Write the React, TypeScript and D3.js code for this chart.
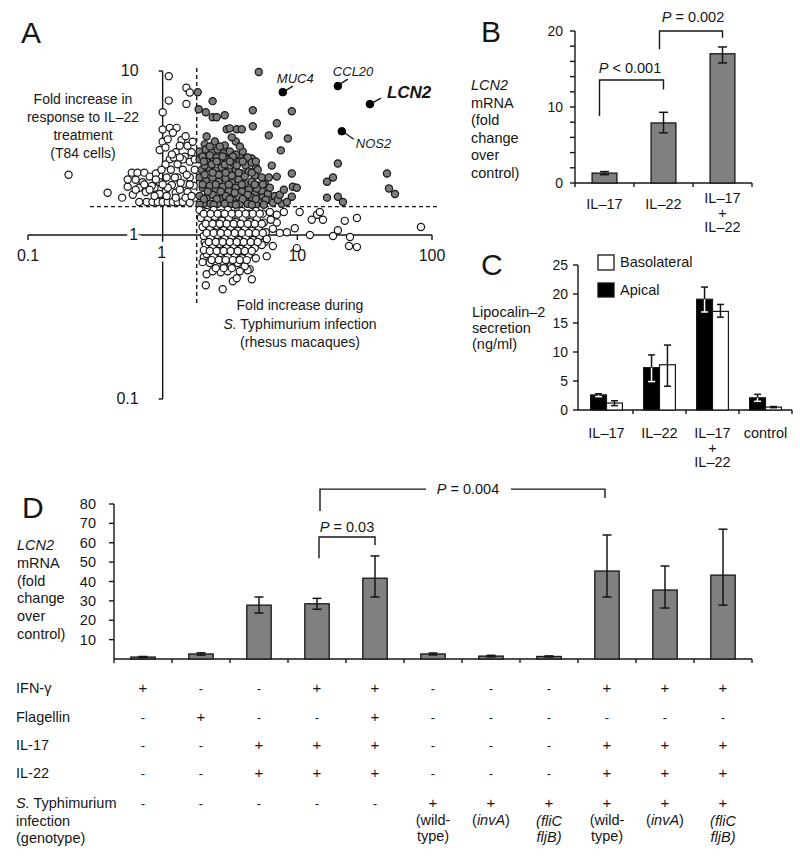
import React from 'react';
import * as d3 from 'd3';

const FONT = '"Liberation Sans", Arial, Helvetica, sans-serif';
const INK = '#161616';
const BAR_GRAY = '#808080';
const DOT_GRAY = '#7c7c7c';

// ---------- Panel A: fold increase (infection, IL-22) ----------
const scatterPts: [number, number][] = [
  [1.11,9.3],[1.5,7.9],[1.59,7.4],[1.11,6.6],[1.5,6.3],[1.0,5.6],[1.0,4.4],[1.13,4.5],[1.27,4.5],[1.19,4.2],
  [1.0,3.7],[0.95,3.3],[1.38,3.8],[1.48,4.0],[1.34,3.5],[1.53,3.5],[1.67,3.7],[1.25,3.2],[1.64,3.2],[1.46,3.0],
  [1.13,2.9],[1.29,2.7],[1.59,2.8],[1.73,2.5],[0.2,2.33],[0.39,1.81],[0.5,1.69],[0.55,1.97],[0.59,2.4],[0.65,2.4],
  [0.73,2.4],[0.63,2.17],[0.71,2.1],[0.8,2.27],[0.89,2.37],[0.6,1.76],[0.67,1.59],[0.76,1.59],[0.84,1.59],[0.92,1.59],
  [1.0,1.59],[1.09,1.59],[1.19,1.59],[1.29,1.59],[1.41,1.59],[0.75,1.83],[0.87,1.94],[0.95,2.1],[1.07,2.24],[1.17,2.02],
  [1.29,2.24],[1.43,2.05],[1.59,2.24],[1.05,1.83],[1.25,1.81],[1.53,1.83],[1.7,2.0],[0.95,1.78],[1.15,2.5],[1.41,2.5],
  [0.83,1.99],[0.67,1.94],[1.73,1.69],[1.48,1.69],[1.59,1.57],
  [1.05,2.69],[1.21,2.97],[1.41,2.89],[1.73,2.89],[1.09,1.94],[1.34,1.89],[1.64,1.73],[0.98,2.5],[1.23,2.24],[1.51,2.33],
  [0.87,1.73],[0.8,1.89],[0.73,2.03],[0.55,2.18],[0.63,1.89],
  [1.05,3.42],[1.17,3.10],[1.34,2.97],[1.09,3.83],[1.59,2.03],[1.0,2.03],[0.89,2.18],[1.25,1.69],[1.07,1.73],[1.36,2.08],
  [1.82,7.43],[2.35,6.55],[1.85,5.85],[2.09,5.6],[2.35,5.22],[2.52,5.22],[2.89,5.37],[2.99,4.41],[2.12,3.99],[3.55,4.41],
  [3.49,3.72],[5.17,9.86],[4.67,5.76],[9.1,5.68],[7.04,4.8],[4.67,4.6],[3.87,4.41],[3.15,4.47],[6.14,4.05],[8.5,3.88],
  [7.54,3.28],[4.59,2.93],[3.74,3.01],[3.15,3.14],[4.92,2.61],[6.46,2.65],[9.1,2.37],[7.04,2.27],[9.26,1.97],[9.91,1.94],
  [9.1,1.71],[5.54,1.73],[6.14,1.64],[6.58,1.57],[7.67,1.55],[20.0,2.73],[18.4,2.24],[16.6,2.11],[16.6,1.69],[20.0,1.71],
  [21.8,1.59],[46.3,2.37],[47.9,1.92],[53.1,1.78],[2.05,3.57],[2.44,3.72],[2.89,3.52],[3.26,3.94],
  [1.88,3.23],[2.09,3.32],[2.31,3.19],[2.56,3.32],[2.84,3.14],[3.15,3.23],[3.49,3.10],[3.93,3.23],[4.28,2.97],
  [1.88,2.89],[2.12,2.81],[2.39,2.89],[2.65,2.77],[2.99,2.89],[3.32,2.73],[3.74,2.81],[4.14,2.65],[4.59,2.77],[5.08,2.5],
  [1.95,2.5],[2.2,2.58],[2.48,2.47],[2.75,2.58],[3.1,2.44],[3.49,2.5],[3.87,2.37],[4.36,2.44],[4.83,2.3],[5.45,2.24],
  [1.88,2.24],[2.09,2.14],[2.35,2.24],[2.61,2.11],[2.94,2.21],[3.26,2.08],[3.67,2.18],[4.07,2.05],[4.59,2.11],[5.08,2.0],[5.73,2.05],
  [1.98,1.94],[2.24,2.0],[2.48,1.89],[2.79,1.97],[3.1,1.86],[3.49,1.94],[3.87,1.84],[4.36,1.89],[4.83,1.78],[5.45,1.86],[6.04,1.78],[6.8,1.73],
  [1.88,1.73],[2.12,1.69],[2.35,1.76],[2.65,1.66],[2.94,1.73],[3.32,1.64],[3.67,1.71],[4.14,1.62],[4.59,1.69],[5.17,1.59],[5.83,1.64],[7.16,1.64],[8.36,1.59],
  [2.02,1.55],[2.27,1.55],[2.56,1.55],[2.89,1.55],[3.26,1.55],[3.74,1.55],[4.28,1.55],[4.92,1.53],
  [1.98,3.01],[2.24,3.06],[2.52,2.97],[2.79,3.01],[3.32,3.01],[2.05,2.65],[2.31,2.69],[2.89,2.69],[3.55,2.65],[2.05,2.33],
  [2.61,2.33],[3.26,2.30],[4.07,2.27],[2.16,1.84],[2.70,1.84],[3.43,1.81],[4.28,1.76],[5.0,1.92],[6.25,1.94],[7.41,1.76],
  [5.54,2.03],[6.14,2.24],[7.94,1.89],
  [2.24,3.47],[2.65,3.47],[3.74,3.47],[1.98,2.03],[2.48,2.03],[3.10,2.03],[3.87,2.03],[4.83,2.03],[2.35,2.40],[2.94,2.40],
  [3.67,2.40],[4.59,2.40],[2.02,2.81],[2.52,2.81],[3.15,2.81],[3.93,2.81],[4.92,2.81],[2.02,1.66],[2.52,1.66],[3.15,1.66],
  [3.93,1.66],[4.92,1.66],[1.88,1.53],[2.39,1.53],[3.49,1.53],[4.59,1.53],[5.64,1.53],
  [2.12,0.576],[2.09,0.494],[2.79,0.467],[3.32,0.522],[3.55,0.545],[4.43,0.619],[4.59,0.537],[5.93,0.743],[7.04,1.19],[8.36,1.04],
  [9.58,1.10],[10.4,1.38],[12.4,1.0],[14.0,1.33],[12.8,1.24],[14.7,1.38],[15.5,1.24],[18.4,0.986],[20.0,1.07],[22.5,1.22],
  [24.6,0.972],[24.2,0.856],[27.7,0.844],[27.7,1.27],[82.8,1.12],[9.91,0.832],[7.41,1.03],[6.58,0.856],[5.73,0.906],[4.07,0.776],
  [3.43,0.703],[4.28,0.61],[2.02,0.733],[2.31,0.776],[2.56,0.787],[2.99,0.776],[2.05,0.906],
  [1.88,1.42],[2.12,1.38],[2.39,1.42],[2.70,1.36],[3.04,1.42],[3.43,1.35],[3.87,1.40],[4.36,1.35],[4.92,1.40],[5.54,1.35],[6.25,1.38],[7.04,1.33],[7.94,1.38],
  [1.92,1.27],[2.16,1.24],[2.44,1.29],[2.75,1.22],[3.10,1.27],[3.49,1.20],[3.93,1.25],[4.43,1.20],[5.0,1.25],[5.64,1.19],[6.35,1.24],
  [1.98,1.12],[2.24,1.09],[2.52,1.14],[2.84,1.07],[3.20,1.12],[3.61,1.06],[4.07,1.10],[4.59,1.06],[5.17,1.10],[5.83,1.04],[6.58,1.09],
  [2.02,0.986],[2.27,0.958],[2.56,1.0],[2.89,0.945],[3.26,0.986],[3.67,0.932],[4.14,0.972],[4.67,0.932],[5.26,0.986],[5.93,0.945],
  [2.09,0.868],[2.35,0.844],[2.65,0.881],[2.99,0.832],[3.37,0.868],[3.80,0.821],[4.28,0.856],[4.83,0.832],[5.45,0.868],
  [2.12,0.765],[2.39,0.743],[2.70,0.776],[3.04,0.733],[3.43,0.765],[3.87,0.722],[4.36,0.754],[4.92,0.722],
  [2.24,0.674],[2.52,0.655],[2.84,0.683],[3.20,0.645],[3.61,0.674],[4.07,0.645],
  [2.35,0.601],[2.70,0.593],[3.04,0.601],[3.74,0.601],[1.98,0.683],[2.02,0.809],
  [2.02,1.35],[2.27,1.35],[2.56,1.35],[2.89,1.35],[3.26,1.35],[3.67,1.35],[4.14,1.35],[4.67,1.35],[5.26,1.35],
  [2.09,1.17],[2.35,1.17],[2.65,1.17],[2.99,1.17],[3.37,1.17],[3.80,1.17],[4.28,1.17],[4.83,1.17],[5.45,1.17],
  [2.12,1.03],[2.39,1.03],[2.70,1.03],[3.04,1.03],[3.43,1.03],[3.87,1.03],[4.36,1.03],[4.92,1.03],[5.54,1.03],
  [2.20,0.906],[2.48,0.906],[2.79,0.906],[3.15,0.906],[3.55,0.906],[4.00,0.906],[4.51,0.906],[5.08,0.906],
  [2.24,0.798],[2.52,0.798],[2.84,0.798],[3.20,0.798],[3.61,0.798],[4.07,0.798],[4.59,0.798],
  [2.31,0.703],[2.61,0.703],[2.94,0.703],[3.32,0.703],[3.74,0.703],[4.21,0.703],
  [2.48,0.628],[2.84,0.628],[3.26,0.628],
];
const geneNames = ['MUC4', 'CCL20', 'LCN2', 'NOS2'];
const geneFoldInfection = [7.8, 20.0, 34.6, 21.4];
const geneFoldIL22 = [7.43, 8.09, 6.28, 4.29];
const cutInfection = 1.79;
const cutIL22 = 1.49;
const xTicksA = [0.1, 1, 10, 100];
const yTicksA = [10, 1, 0.1];

// ---------- Panel B ----------
const bCats = [['IL–17'], ['IL–22'], ['IL–17', '+', 'IL–22']];
const bMean = [1.3, 7.9, 17.0];
const bLow = [1.1, 6.6, 15.8];
const bHigh = [1.5, 9.3, 17.9];
const bTicks = [0, 10, 20];

// ---------- Panel C ----------
const cCats = [['IL–17'], ['IL–22'], ['IL–17', '+', 'IL–22'], ['control']];
const cApical = [2.6, 7.3, 19.1, 2.1];
const cApicalLow = [2.3, 4.9, 16.9, 1.5];
const cApicalHigh = [2.8, 9.5, 21.2, 2.7];
const cBaso = [1.2, 7.8, 17.0, 0.5];
const cBasoLow = [0.75, 4.1, 16.0, 0.4];
const cBasoHigh = [1.6, 11.2, 18.2, 0.6];
const cTicks = [0, 5, 10, 15, 20, 25];

// ---------- Panel D ----------
const dMean = [1.0, 2.6, 27.8, 28.5, 41.7, 2.6, 1.5, 1.3, 45.4, 35.6, 43.3];
const dLow = [0.7, 2.0, 23.7, 25.7, 32.0, 2.1, 1.1, 1.0, 32.0, 26.3, 27.8];
const dHigh = [1.3, 3.2, 32.0, 31.3, 53.2, 3.1, 1.9, 1.6, 64.0, 48.0, 67.0];
const dTicks = [10, 20, 30, 40, 50, 60, 70, 80];
const ifng = ['+', '-', '-', '+', '+', '-', '-', '-', '+', '+', '+'];
const flagellin = ['-', '+', '-', '-', '+', '-', '-', '-', '-', '-', '-'];
const il17 = ['-', '-', '+', '+', '+', '-', '-', '-', '+', '+', '+'];
const il22 = ['-', '-', '+', '+', '+', '-', '-', '-', '+', '+', '+'];
const infection = ['-', '-', '-', '-', '-', '+', '+', '+', '+', '+', '+'];
const genotype = ['', '', '', '', '', 'wild-type', 'invA', 'fliC fljB', 'wild-type', 'invA', 'fliC fljB'];

function ErrBar({ x, y1, y2, cap, color = INK, sw = 1.5 }: any) {
  return (
    <g stroke={color} strokeWidth={sw}>
      <line x1={x} x2={x} y1={y1} y2={y2} />
      <line x1={x - cap} x2={x + cap} y1={y1} y2={y1} />
      <line x1={x - cap} x2={x + cap} y1={y2} y2={y2} />
    </g>
  );
}

function Bracket({ x1, x2, y, y1, y2 }: any) {
  return (
    <path d={`M${x1},${y1}V${y}H${x2}V${y2}`} fill="none" stroke={INK} strokeWidth={1.4} />
  );
}

const T = (p: any) => <text fontFamily={FONT} fill={INK} fontSize={14.5} {...p} />;

export default function App() {
  const xA = d3.scaleLog().domain([0.1, 100]).range([28, 432]);
  const yA = d3.scaleLog().domain([0.1, 10]).range([399, 71]);
  const ax0 = xA(1), ay0 = yA(1);

  const xB = d3.scaleBand<number>().domain(d3.range(3)).range([575, 752]);
  const yB = d3.scaleLinear().domain([0, 20]).range([183, 31]);
  const bw = xB.bandwidth() * 0.42;
  const cB = (i: number) => (xB(i) as number) + xB.bandwidth() / 2;

  const xC = d3.scaleBand<number>().domain(d3.range(4)).range([580, 792]);
  const yC = d3.scaleLinear().domain([0, 25]).range([410, 265]);
  const cw = xC.bandwidth() * 0.3;
  const cC = (i: number) => (xC(i) as number) + xC.bandwidth() / 2;

  const xD = d3.scaleBand<number>().domain(d3.range(11)).range([114, 752]);
  const yD = d3.scaleLinear().domain([0, 80]).range([659, 504]);
  const dw = xD.bandwidth() * 0.42;
  const cD = (i: number) => (xD(i) as number) + xD.bandwidth() / 2;

  const dotFill = (d: [number, number]) =>
    d[0] > cutInfection && d[1] > cutIL22 ? DOT_GRAY : '#fff';

  const tableRows: [React.ReactNode, string[], number][] = [
    ['IFN-γ', ifng, 693],
    ['Flagellin', flagellin, 722],
    ['IL-17', il17, 750],
    ['IL-22', il22, 778],
    [<tspan><tspan fontStyle="italic">S.</tspan> Typhimurium</tspan>, infection, 808],
  ];

  const genoText = (g: string, x: number, key: number) => {
    if (!g) return null;
    if (g === 'wild-type')
      return (
        <g key={key}>
          <T x={x} y={825} textAnchor="middle">(wild-</T>
          <T x={x} y={841} textAnchor="middle">type)</T>
        </g>
      );
    if (g === 'invA')
      return (
        <T key={key} x={x} y={825} textAnchor="middle">(<tspan fontStyle="italic">invA</tspan>)</T>
      );
    const [a, b] = g.split(' ');
    return (
      <g key={key}>
        <T x={x} y={826} textAnchor="middle" fontStyle="italic">({a}</T>
        <T x={x} y={842} textAnchor="middle" fontStyle="italic">{b})</T>
      </g>
    );
  };

  const multi = (lines: React.ReactNode[], x: number, y0: number, lh: number, anchor = 'start', size = 14.5) =>
    lines.map((l, i) => (
      <T key={i} x={x} y={y0 + i * lh} textAnchor={anchor} fontSize={size}>{l}</T>
    ));

  return (
    <div style={{ position: 'absolute', left: 0, top: 0 }}>
      <svg width={800} height={858} style={{ display: 'block', background: '#fff' }}>
        <rect width={800} height={858} fill="#fff" />

        {/* ================= Panel A ================= */}
        <T x={21} y={43} fontSize={30}>A</T>
        <g stroke={INK} strokeWidth={1.4}>
          <line x1={xA(0.1)} x2={xA(100)} y1={ay0} y2={ay0} />
          <line x1={ax0} x2={ax0} y1={yA(10)} y2={yA(0.1)} />
          {[0.1, 10, 100].map((t) => (
            <line key={t} x1={xA(t)} x2={xA(t)} y1={ay0} y2={ay0 + 5} />
          ))}
          {[10, 0.1].map((t) => (
            <line key={t} x1={ax0 - 4} x2={ax0} y1={yA(t)} y2={yA(t)} />
          ))}
        </g>
        {xTicksA.map((t) => (
          <T key={t} x={t === 1 ? xA(t) - 1 : xA(t)} y={t === 1 ? ay0 + 23 : ay0 + 26} fontSize={16}
            textAnchor="middle" stroke={t === 1 ? '#fff' : 'none'} strokeWidth={7} paintOrder="stroke">
            {String(t)}
          </T>
        ))}
        {yTicksA.map((t) => (
          <T key={t} x={t === 1 ? ax0 - 29 : ax0 - 24} y={yA(t) + 5} fontSize={16}
            textAnchor={t === 1 ? 'middle' : 'end'} stroke={t === 1 ? '#fff' : 'none'} strokeWidth={7} paintOrder="stroke">
            {String(t)}
          </T>
        ))}
        <g stroke={INK} strokeWidth={1.4} strokeDasharray="4,3">
          <line x1={xA(cutInfection)} x2={xA(cutInfection)} y1={yA(10) - 3} y2={303} />
          <line x1={90} x2={440} y1={yA(cutIL22)} y2={yA(cutIL22)} />
        </g>
        {scatterPts.map((d, i) => (
          <circle key={i} cx={xA(d[0])} cy={yA(d[1])} r={3.6} fill={dotFill(d)} stroke={INK} strokeWidth={1.2} />
        ))}
        {geneNames.map((g, i) => {
          const px = xA(geneFoldInfection[i]);
          const py = yA(geneFoldIL22[i]);
          let lead: number[] = [], tx = 0, ty = 0, big = false;
          if (g === 'MUC4') { lead = [2, -1, 10, -6]; tx = -6; ty = -9; }
          if (g === 'CCL20') { lead = [2, -2, 10, -7]; tx = -5; ty = -10; }
          if (g === 'LCN2') { lead = [2, -1, 11, -6]; tx = 17; ty = -6; big = true; }
          if (g === 'NOS2') { lead = [2, 1, 12, 8]; tx = 14; ty = 17; }
          return (
            <g key={g}>
              <line x1={px + lead[0]} y1={py + lead[1]} x2={px + lead[2]} y2={py + lead[3]} stroke={INK} strokeWidth={1.3} />
              <circle cx={px} cy={py} r={3.8} fill="#000" stroke="#000" strokeWidth={1} />
              <T x={px + tx} y={py + ty} fontSize={big ? 17 : 13} fontStyle="italic" fontWeight={big ? 'bold' : 'normal'}>{g}</T>
            </g>
          );
        })}
        {multi(['Fold increase in', 'response to IL–22', 'treatment', '(T84 cells)'], 83, 104, 18, 'middle', 14)}
        {multi(['Fold increase during', <tspan><tspan fontStyle="italic">S.</tspan> Typhimurium infection</tspan>, '(rhesus macaques)'], 300, 310, 18.5, 'middle', 14)}

        {/* ================= Panel B ================= */}
        <T x={481} y={42} fontSize={30}>B</T>
        {multi([<tspan fontStyle="italic">LCN2</tspan>, 'mRNA', '(fold', 'change', 'over', 'control)'], 471, 90, 17.6)}
        <g stroke={INK} strokeWidth={1.4}>
          <line x1={575} x2={575} y1={yB(20)} y2={yB(0)} />
          <line x1={575} x2={752} y1={yB(0)} y2={yB(0)} />
          {d3.range(0, 21, 2).map((t) => (
            <line key={t} x1={570} x2={575} y1={yB(t)} y2={yB(t)} />
          ))}
          {d3.range(4).map((i) => (
            <line key={i} x1={575 + i * xB.step()} x2={575 + i * xB.step()} y1={yB(0)} y2={yB(0) + 4} />
          ))}
        </g>
        {bTicks.map((t) => (
          <T key={t} x={563} y={yB(t) + 5} textAnchor="end" fontSize={14}>{t}</T>
        ))}
        {bMean.map((v, i) => (
          <g key={i}>
            <rect x={cB(i) - bw / 2} y={yB(v)} width={bw} height={yB(0) - yB(v)} fill={BAR_GRAY} stroke={INK} strokeWidth={1.3} />
            <ErrBar x={cB(i)} y1={yB(bHigh[i])} y2={yB(bLow[i])} cap={4.5} />
          </g>
        ))}
        {bCats.map((lines, i) =>
          lines.map((l, j) => (
            <T key={i + '-' + j} x={cB(i)} y={(lines.length > 1 ? 203 : 209) + j * 14.5} textAnchor="middle">{l}</T>
          ))
        )}
        <Bracket x1={cB(0) - 5} x2={cB(1)} y={yB(13.55)} y1={yB(8.8)} y2={yB(12.3)} />
        <T x={630} y={73} textAnchor="middle"><tspan fontStyle="italic">P</tspan> &lt; 0.001</T>
        <Bracket x1={cB(1) - 4} x2={cB(2)} y={yB(20)} y1={yB(17.6)} y2={yB(19.1)} />
        <T x={693} y={22} textAnchor="middle"><tspan fontStyle="italic">P</tspan> = 0.002</T>

        {/* ================= Panel C ================= */}
        <T x={481} y={275} fontSize={30}>C</T>
        {multi(['Lipocalin–2', 'secretion', '(ng/ml)'], 472, 317, 16)}
        <rect x={598} y={255} width={16} height={15} fill="#fff" stroke={INK} strokeWidth={1.3} />
        <T x={620} y={267}>Basolateral</T>
        <rect x={598} y={283} width={16} height={14} fill="#000" stroke={INK} strokeWidth={1.3} />
        <T x={620} y={295}>Apical</T>
        <g stroke={INK} strokeWidth={1.4}>
          <line x1={578} x2={578} y1={yC(25)} y2={yC(0)} />
          <line x1={578} x2={792} y1={yC(0)} y2={yC(0)} />
          {cTicks.map((t) => (
            <line key={t} x1={573} x2={578} y1={yC(t)} y2={yC(t)} />
          ))}
          {d3.range(1, 5).map((i) => (
            <line key={i} x1={580 + i * xC.step()} x2={580 + i * xC.step()} y1={yC(0)} y2={yC(0) + 4} />
          ))}
        </g>
        {cTicks.map((t) => (
          <T key={t} x={568} y={yC(t) + 5} textAnchor="end" fontSize={14}>{t}</T>
        ))}
        {cApical.map((v, i) => {
          const x = cC(i) - cw;
          const xc = cC(i) - cw / 2;
          return (
            <g key={'a' + i}>
              <rect x={x} y={yC(v)} width={cw} height={yC(0) - yC(v)} fill="#000" stroke={INK} strokeWidth={1.2} />
              <line x1={xc} x2={xc} y1={yC(cApicalHigh[i])} y2={yC(v)} stroke={INK} strokeWidth={1.5} />
              <line x1={xc - 3.5} x2={xc + 3.5} y1={yC(cApicalHigh[i])} y2={yC(cApicalHigh[i])} stroke={INK} strokeWidth={1.5} />
              <line x1={xc} x2={xc} y1={yC(v)} y2={yC(cApicalLow[i])} stroke="#fff" strokeWidth={1.5} />
              <line x1={xc - 3.5} x2={xc + 3.5} y1={yC(cApicalLow[i])} y2={yC(cApicalLow[i])} stroke="#fff" strokeWidth={1.5} />
            </g>
          );
        })}
        {cBaso.map((v, i) => {
          const x = cC(i);
          const xc = cC(i) + cw / 2;
          return (
            <g key={'b' + i}>
              <rect x={x} y={yC(v)} width={cw} height={yC(0) - yC(v)} fill="#fff" stroke={INK} strokeWidth={1.2} />
              <ErrBar x={xc} y1={yC(cBasoHigh[i])} y2={yC(cBasoLow[i])} cap={3.5} />
            </g>
          );
        })}
        {cCats.map((lines, i) =>
          lines.map((l, j) => (
            <T key={i + '-' + j} x={cC(i)} y={438 + j * 14.5} textAnchor="middle">{l}</T>
          ))
        )}

        {/* ================= Panel D ================= */}
        <T x={22} y={518} fontSize={30}>D</T>
        {multi([<tspan fontStyle="italic">LCN2</tspan>, 'mRNA', '(fold', 'change', 'over', 'control)'], 17, 550, 17.8)}
        <g stroke={INK} strokeWidth={1.4}>
          <line x1={114} x2={114} y1={yD(80)} y2={yD(0)} />
          <line x1={114} x2={752} y1={yD(0)} y2={yD(0)} />
          {dTicks.map((t) => (
            <line key={t} x1={109} x2={114} y1={yD(t)} y2={yD(t)} />
          ))}
          {d3.range(12).map((i) => (
            <line key={i} x1={114 + i * xD.step()} x2={114 + i * xD.step()} y1={yD(0)} y2={yD(0) + 4} />
          ))}
        </g>
        {dTicks.map((t) => (
          <T key={t} x={96} y={yD(t) + 5} textAnchor="end" fontSize={14.5}>{t}</T>
        ))}
        {dMean.map((v, i) => (
          <g key={i}>
            <rect x={cD(i) - dw / 2} y={yD(v)} width={dw} height={yD(0) - yD(v)} fill={BAR_GRAY} stroke={INK} strokeWidth={1.3} />
            <ErrBar x={cD(i)} y1={yD(dHigh[i])} y2={yD(dLow[i])} cap={4.5} />
          </g>
        ))}
        <Bracket x1={cD(3) + 2} x2={cD(4)} y={yD(63)} y1={yD(52)} y2={yD(58.8)} />
        <T x={347} y={532} textAnchor="middle"><tspan fontStyle="italic">P</tspan> = 0.03</T>
        <path d={`M${cD(3) + 3},${yD(76.4)}V${yD(87.7)}H${426}`} fill="none" stroke={INK} strokeWidth={1.4} />
        <path d={`M${511},${yD(87.7)}H${cD(8) - 2}V${yD(83.1)}`} fill="none" stroke={INK} strokeWidth={1.4} />
        <T x={468} y={494} textAnchor="middle"><tspan fontStyle="italic">P</tspan> = 0.004</T>

        {tableRows.map(([label, vals, y], r) => (
          <g key={r}>
            <T x={16} y={y}>{label}</T>
            {vals.map((s, i) => (
              <T key={i} x={cD(i)} y={y} textAnchor="middle" fontSize={s === '-' ? 13 : 15}>{s}</T>
            ))}
          </g>
        ))}
        <T x={16} y={826}>infection</T>
        <T x={16} y={843}>(genotype)</T>
        {genotype.map((g, i) => genoText(g, cD(i), i))}
      </svg>
    </div>
  );
}
